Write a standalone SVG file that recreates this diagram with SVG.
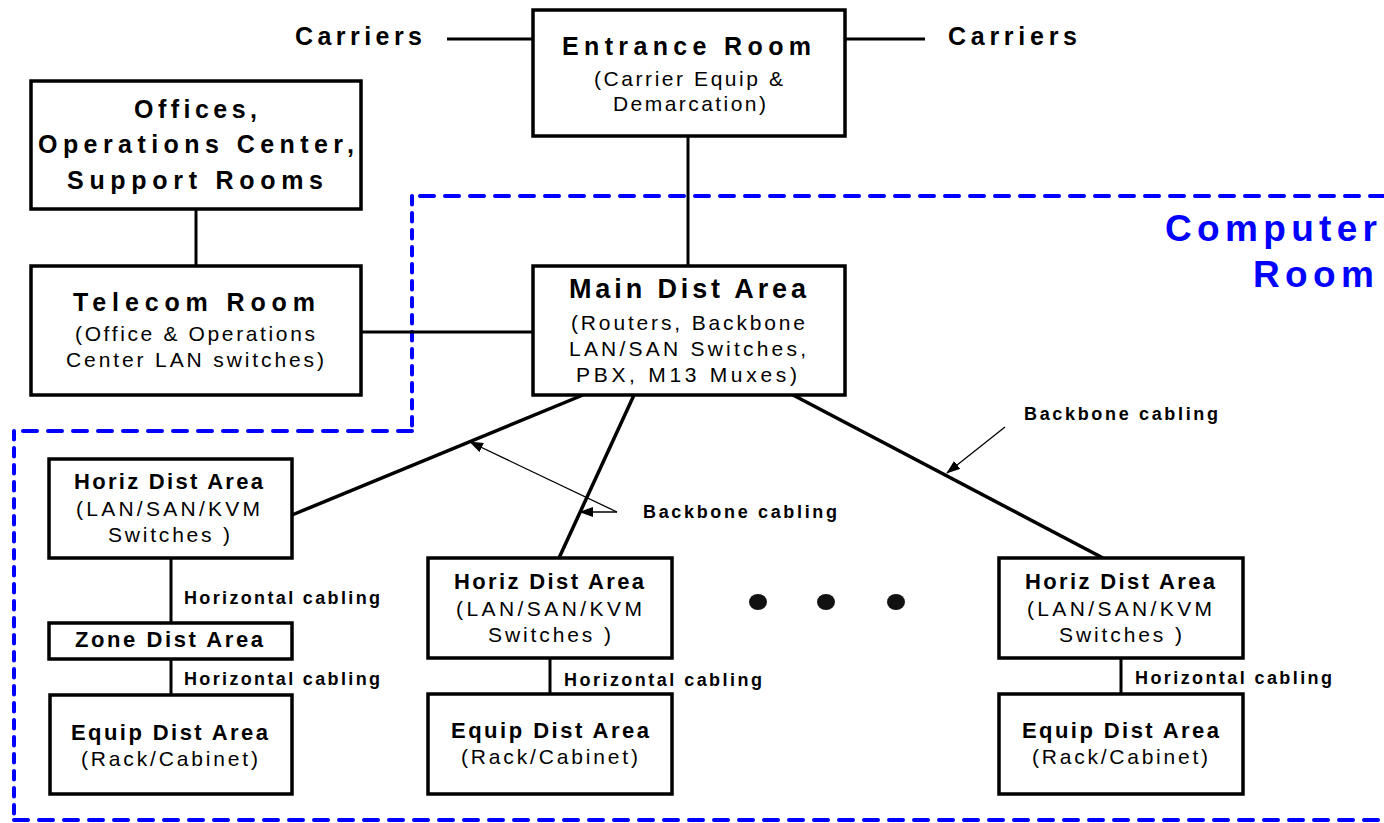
<svg xmlns="http://www.w3.org/2000/svg" width="1384" height="823" viewBox="0 0 1384 823">
<style>
.box{fill:#fff;stroke:#000;stroke-width:3.5}
.ln{fill:none;stroke:#000;stroke-width:3}
.bb{fill:none;stroke:#000;stroke-width:3.5}
.thin{fill:none;stroke:#000;stroke-width:1.3}
.t{font-family:"Liberation Sans",Arial,sans-serif;font-weight:bold;font-size:25px;fill:#000}
.t2{font-family:"Liberation Sans",Arial,sans-serif;font-weight:bold;font-size:22px;fill:#000}
.s{font-family:"Liberation Sans",Arial,sans-serif;font-size:21px;fill:#000}
.lab{font-family:"Liberation Sans",Arial,sans-serif;font-weight:bold;font-size:18px;fill:#000}
.cr{font-family:"Liberation Sans",Arial,sans-serif;font-weight:bold;font-size:37px;fill:#0000ff}
.dh{fill:none;stroke:#0000ff;stroke-width:4;stroke-linecap:round;stroke-dasharray:14 11}
.dv{fill:none;stroke:#0000ff;stroke-width:4;stroke-linecap:round;stroke-dasharray:8.5 8.5}
</style>
<defs>
<marker id="ah" markerUnits="userSpaceOnUse" markerWidth="14" markerHeight="10" refX="13" refY="5" orient="auto">
<path d="M0,0 L14,5 L0,10 Z" fill="#000"/>
</marker>
</defs>

<g id="computer-room">
<path class="dh" d="M1384,196 L412,196"/>
<path class="dv" d="M412,196 L412,431"/>
<path class="dh" d="M412,431 L14,431"/>
<path class="dv" d="M14,431 L14,820"/>
<path class="dh" d="M14,820 L1384,820"/>
<text class="cr" x="1165" y="241" textLength="212" lengthAdjust="spacing">Computer</text>
<text class="cr" x="1253" y="287" textLength="121" lengthAdjust="spacing">Room</text>
</g>

<g id="connectors">
<line class="ln" x1="447" y1="39" x2="533" y2="39"/>
<line class="ln" x1="845" y1="39" x2="925" y2="39"/>
<line class="ln" x1="688" y1="136" x2="688" y2="266"/>
<line class="ln" x1="196" y1="209" x2="196" y2="266"/>
<line class="ln" x1="361" y1="332" x2="533" y2="332"/>
<line class="bb" x1="583" y1="395" x2="292" y2="515"/>
<line class="bb" x1="634" y1="395" x2="559" y2="558"/>
<line class="bb" x1="793" y1="395" x2="1103" y2="558"/>
<line class="ln" x1="171" y1="558" x2="171" y2="623"/>
<line class="ln" x1="171" y1="659" x2="171" y2="695"/>
<line class="ln" x1="550" y1="658" x2="550" y2="694"/>
<line class="ln" x1="1121" y1="658" x2="1121" y2="694"/>
<line class="thin" x1="617" y1="512" x2="470" y2="442" marker-end="url(#ah)"/>
<line class="thin" x1="617" y1="512" x2="580" y2="512" marker-end="url(#ah)"/>
<line class="thin" x1="1005" y1="427" x2="947" y2="473" marker-end="url(#ah)"/>
<text class="lab" x="643" y="518" textLength="194" lengthAdjust="spacing">Backbone cabling</text>
<text class="lab" x="1024" y="420" textLength="194" lengthAdjust="spacing">Backbone cabling</text>
<text class="lab" x="184" y="604" textLength="196" lengthAdjust="spacing">Horizontal cabling</text>
<text class="lab" x="184" y="685" textLength="196" lengthAdjust="spacing">Horizontal cabling</text>
<text class="lab" x="564" y="686" textLength="198" lengthAdjust="spacing">Horizontal cabling</text>
<text class="lab" x="1135" y="684" textLength="197" lengthAdjust="spacing">Horizontal cabling</text>
</g>

<g id="carriers-left">
<text class="t" x="295" y="45" textLength="127" lengthAdjust="spacing">Carriers</text>
</g>
<g id="carriers-right">
<text class="t" x="948" y="45" textLength="129" lengthAdjust="spacing">Carriers</text>
</g>

<g id="entrance-room">
<rect class="box" x="533" y="10" width="312" height="126"/>
<text class="t" x="562" y="55" textLength="249" lengthAdjust="spacing">Entrance Room</text>
<text class="s" x="594" y="86" textLength="189" lengthAdjust="spacing">(Carrier Equip &amp;</text>
<text class="s" x="613" y="111" textLength="153" lengthAdjust="spacing">Demarcation)</text>
</g>

<g id="offices">
<rect class="box" x="31" y="81" width="330" height="128"/>
<text class="t" x="134" y="118" textLength="123" lengthAdjust="spacing">Offices,</text>
<text class="t" x="38" y="153" textLength="316" lengthAdjust="spacing">Operations Center,</text>
<text class="t" x="67" y="189" textLength="256" lengthAdjust="spacing">Support Rooms</text>
</g>

<g id="telecom-room">
<rect class="box" x="31" y="266" width="330" height="129"/>
<text class="t" x="73" y="311" textLength="242" lengthAdjust="spacing">Telecom Room</text>
<text class="s" x="75" y="341" textLength="240" lengthAdjust="spacing">(Office &amp; Operations</text>
<text class="s" x="66" y="367" textLength="258" lengthAdjust="spacing">Center LAN switches)</text>
</g>

<g id="main-dist-area">
<rect class="box" x="533" y="266" width="312" height="129"/>
<text class="t" style="font-size:27px" x="569" y="298" textLength="237" lengthAdjust="spacing">Main Dist Area</text>
<text class="s" x="571" y="330" textLength="234" lengthAdjust="spacing">(Routers, Backbone</text>
<text class="s" x="569" y="356" textLength="237" lengthAdjust="spacing">LAN/SAN Switches,</text>
<text class="s" x="576" y="382" textLength="221" lengthAdjust="spacing">PBX, M13 Muxes)</text>
</g>

<g id="horiz-dist-1">
<rect class="box" x="49" y="459" width="243" height="99"/>
<text class="t2" x="74" y="489" textLength="189" lengthAdjust="spacing">Horiz Dist Area</text>
<text class="s" x="76" y="516" textLength="184" lengthAdjust="spacing">(LAN/SAN/KVM</text>
<text class="s" x="108" y="542" textLength="122" lengthAdjust="spacing">Switches )</text>
</g>

<g id="zone-dist">
<rect class="box" x="49" y="623" width="243" height="36"/>
<text class="t2" x="75" y="647" textLength="188" lengthAdjust="spacing">Zone Dist Area</text>
</g>

<g id="equip-dist-1">
<rect class="box" x="50" y="695" width="242" height="99"/>
<text class="t2" x="71" y="740" textLength="197" lengthAdjust="spacing">Equip Dist Area</text>
<text class="s" x="81" y="766" textLength="177" lengthAdjust="spacing">(Rack/Cabinet)</text>
</g>

<g id="horiz-dist-2">
<rect class="box" x="428" y="558" width="244" height="100"/>
<text class="t2" x="454" y="589" textLength="190" lengthAdjust="spacing">Horiz Dist Area</text>
<text class="s" x="456" y="616" textLength="186" lengthAdjust="spacing">(LAN/SAN/KVM</text>
<text class="s" x="488" y="642" textLength="123" lengthAdjust="spacing">Switches )</text>
</g>

<g id="equip-dist-2">
<rect class="box" x="428" y="694" width="244" height="100"/>
<text class="t2" x="451" y="738" textLength="198" lengthAdjust="spacing">Equip Dist Area</text>
<text class="s" x="461" y="764" textLength="177" lengthAdjust="spacing">(Rack/Cabinet)</text>
</g>

<g id="horiz-dist-3">
<rect class="box" x="999" y="558" width="244" height="100"/>
<text class="t2" x="1025" y="589" textLength="190" lengthAdjust="spacing">Horiz Dist Area</text>
<text class="s" x="1027" y="616" textLength="185" lengthAdjust="spacing">(LAN/SAN/KVM</text>
<text class="s" x="1059" y="642" textLength="123" lengthAdjust="spacing">Switches )</text>
</g>

<g id="equip-dist-3">
<rect class="box" x="999" y="694" width="244" height="100"/>
<text class="t2" x="1022" y="738" textLength="197" lengthAdjust="spacing">Equip Dist Area</text>
<text class="s" x="1032" y="764" textLength="176" lengthAdjust="spacing">(Rack/Cabinet)</text>
</g>

<g id="ellipsis">
<ellipse cx="758" cy="602" rx="9" ry="8" fill="#111"/>
<ellipse cx="826" cy="602" rx="9" ry="8" fill="#111"/>
<ellipse cx="896" cy="602" rx="9" ry="8" fill="#111"/>
</g>
</svg>
